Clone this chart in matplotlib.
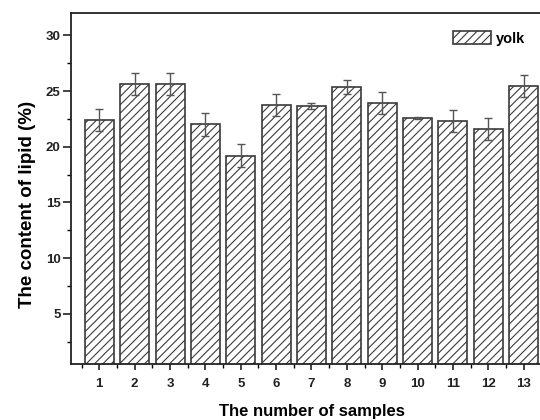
import matplotlib
matplotlib.use("Agg")
import matplotlib.pyplot as plt
from matplotlib.ticker import MultipleLocator

plt.rcParams['font.family'] = ['Liberation Sans', 'DejaVu Sans']
plt.rcParams['hatch.linewidth'] = 0.8
plt.rcParams['hatch.color'] = '#6a6a6a'

samples = list(range(1, 14))
lipid = [22.4, 25.65, 25.65, 22.0, 19.2, 23.75, 23.65, 25.36, 23.93, 22.6, 22.3, 21.58, 25.42]
err = [1.0, 1.0, 1.0, 1.0, 1.0, 1.0, 0.25, 0.6, 1.0, 0.1, 1.0, 1.0, 1.0]

fig = plt.figure(figsize=(5.4, 4.2), dpi=100)
ax = fig.add_axes([71/540, 56/420, 481/540, 351/420])

ax.bar(samples, lipid, width=0.82, color='white', edgecolor='#3a3a3a', linewidth=1.2,
       hatch='////', label='yolk', zorder=2)
ax.errorbar(samples, lipid, yerr=err, fmt='none', ecolor='#555555', elinewidth=1.0,
            capsize=3, capthick=1.0, zorder=3)

ax.set_xlim(0.2, 13.8)
ax.set_ylim(0.5, 32)
ax.set_xticks(samples)
ax.set_xticks([s + 0.5 for s in [0] + samples], minor=True)
ax.set_yticks([5, 10, 15, 20, 25, 30])
ax.yaxis.set_minor_locator(MultipleLocator(2.5))
ax.tick_params(axis='y', which='major', direction='out', length=5.5, width=1.2,
               labelsize=9.5, colors='#222222', pad=2)
ax.tick_params(axis='x', which='major', direction='out', length=4, width=1.2,
               labelsize=9.5, colors='#222222', pad=6)
ax.tick_params(axis='both', which='minor', direction='out', length=3, width=1.0)
for lbl in ax.get_xticklabels() + ax.get_yticklabels():
    lbl.set_fontweight('bold')

for s in ax.spines.values():
    s.set_linewidth(1.3)
    s.set_color('#222222')

ax.set_xlabel('The number of samples', fontsize=12, fontweight='bold', labelpad=10)
ax.set_ylabel('The content of lipid (%)', fontsize=13.5, fontweight='bold')
ax.yaxis.set_label_coords(-0.072, 0.455)

leg = ax.legend(loc='upper left', bbox_to_anchor=(0.766, 0.985), frameon=False,
                prop={'weight': 'bold', 'size': 10.5}, handlelength=2.65, handleheight=1.0,
                handletextpad=0.35)

fig.savefig('out.png', dpi=100)
